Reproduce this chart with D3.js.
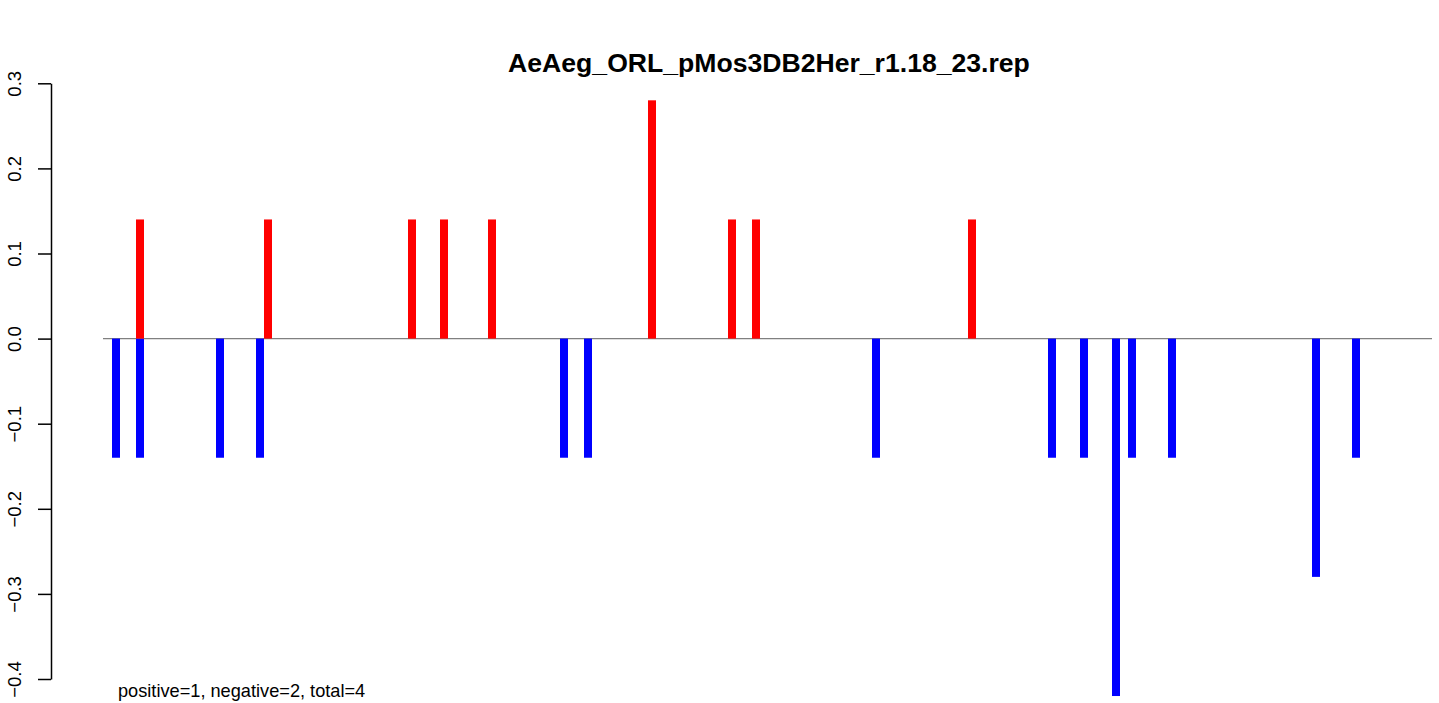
<!DOCTYPE html>
<html>
<head>
<meta charset="utf-8">
<script src="https://cdn.jsdelivr.net/npm/d3@7"></script>
<style>
  html, body { margin: 0; padding: 0; background: #fff; }
  svg { display: block; font-family: "Liberation Sans", Arial, Helvetica, sans-serif; }
</style>
</head>
<body>
<svg id="chart" width="1439" height="703"></svg>
<script>
// ---- data ----
const chartTitle = "AeAeg_ORL_pMos3DB2Her_r1.18_23.rep";
const footnote = "positive=1, negative=2, total=4";
const positivePositions = [3, 19, 37, 41, 47, 67, 77, 80, 107];
const positiveValues    = [0.14, 0.14, 0.14, 0.14, 0.14, 0.28, 0.14, 0.14, 0.14];
const negativePositions = [0, 3, 13, 18, 56, 59, 95, 117, 121, 125, 127, 132, 150, 155];
const negativeValues    = [-0.14, -0.14, -0.14, -0.14, -0.14, -0.14, -0.14, -0.14, -0.14, -0.42, -0.14, -0.14, -0.28, -0.14];
const xLimits = [-1.625, 164.5];
const yTicks = [-0.4, -0.3, -0.2, -0.1, 0.0, 0.1, 0.2, 0.3];

// ---- layout ----
const svg = d3.select("#chart");
const x = d3.scaleLinear().domain(xLimits).range([103, 1432]);
const y = d3.scaleLinear().domain([-0.4, 0.3]).range([679, 83.3]);
const barW = 8;

// zero line
svg.append("line")
  .attr("x1", x(xLimits[0])).attr("x2", x(xLimits[1]))
  .attr("y1", y(0)).attr("y2", y(0))
  .attr("stroke", "#808080").attr("stroke-width", 1.3);

const pos = positivePositions.map((p, i) => ({p, v: positiveValues[i]}));
const neg = negativePositions.map((p, i) => ({p, v: negativeValues[i]}));

svg.append("g").selectAll("rect").data(neg).join("rect")
  .attr("x", d => x(d.p) - barW / 2)
  .attr("width", barW)
  .attr("y", y(0))
  .attr("height", d => y(d.v) - y(0))
  .attr("fill", "#0000ff");

svg.append("g").selectAll("rect").data(pos).join("rect")
  .attr("x", d => x(d.p) - barW / 2)
  .attr("width", barW)
  .attr("y", d => y(d.v))
  .attr("height", d => y(0) - y(d.v))
  .attr("fill", "#ff0000");

// y axis
const axis = d3.axisLeft(y).tickValues(yTicks).tickFormat(d3.format(".1f")).tickSize(13).tickSizeOuter(0);
const gAxis = svg.append("g").attr("transform", "translate(51,0)").call(axis);
gAxis.select(".domain").attr("stroke", "#000").attr("stroke-width", 1.5);
gAxis.selectAll(".tick line").attr("stroke", "#000").attr("stroke-width", 1.5);
gAxis.selectAll(".tick text")
  .attr("x", null).attr("dy", null)
  .attr("transform", "translate(-30,0) rotate(-90)")
  .attr("text-anchor", "middle")
  .attr("fill", "#000")
  .style("font-size", "18.5px")
  .style("font-family", "'Liberation Sans', Arial, sans-serif");

// title
svg.append("text")
  .attr("x", 769).attr("y", 72)
  .attr("text-anchor", "middle")
  .style("font-size", "26.6px").style("font-weight", "bold")
  .text(chartTitle);

// footnote
svg.append("text")
  .attr("x", 118).attr("y", 697)
  .style("font-size", "18.2px")
  .text(footnote);
</script>
</body>
</html>
